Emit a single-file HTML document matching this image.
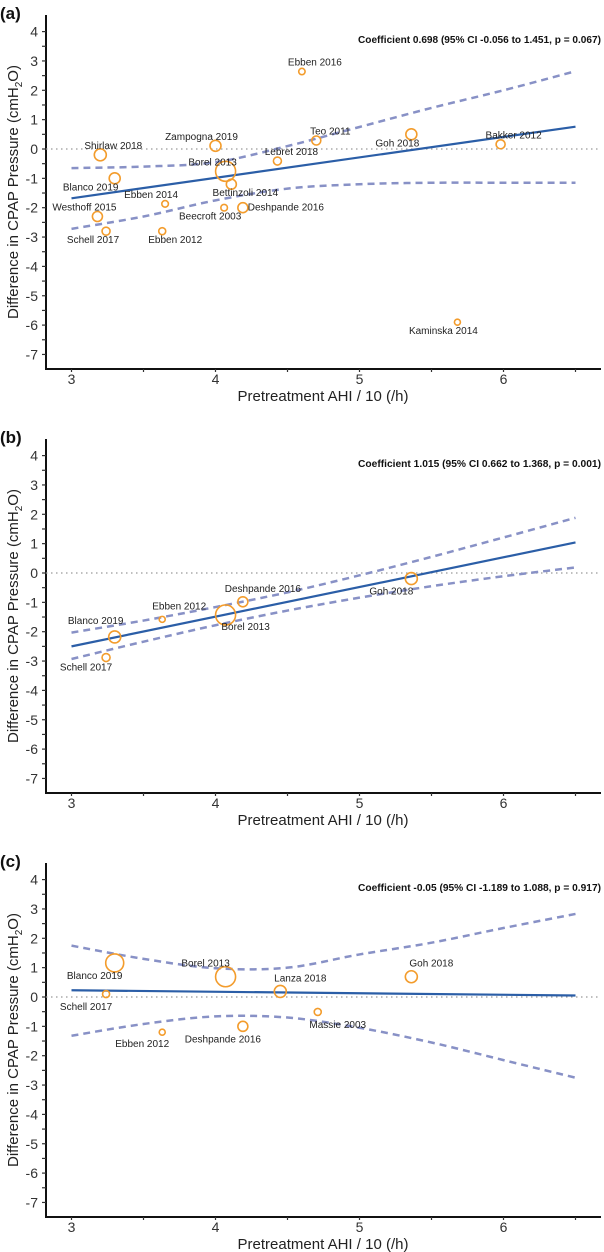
<!DOCTYPE html>
<html><head><meta charset="utf-8"><style>
html,body{margin:0;padding:0;background:#fff;}
svg{display:block;font-family:"Liberation Sans",sans-serif;}
</style></head><body>
<svg id="fig" width="604" height="1252" viewBox="0 0 604 1252" xmlns="http://www.w3.org/2000/svg"></svg>
<script>
const xTicks = [3, 4, 5, 6];
const yTicks = [4, 3, 2, 1, 0, -1, -2, -3, -4, -5, -6, -7];
const ciX = [3, 3.5, 4, 4.5, 5, 5.5, 6, 6.5];

// Panel (a)
const aNames = ["Shirlaw 2018","Blanco 2019","Westhoff 2015","Schell 2017","Ebben 2014","Ebben 2012","Zampogna 2019","Borel 2013","Bettinzoli 2014","Beecroft 2003","Deshpande 2016","Lebret 2018","Ebben 2016","Teo 2011","Goh 2018","Bakker 2012","Kaminska 2014"];
const aX = [3.20,3.30,3.18,3.24,3.65,3.63,4.00,4.07,4.11,4.06,4.19,4.43,4.60,4.70,5.36,5.98,5.68];
const aY = [-0.2,-1.0,-2.3,-2.8,-1.87,-2.8,0.11,-0.76,-1.2,-2.0,-2.0,-0.41,2.64,0.29,0.5,0.16,-5.9];
const aW = [6,5.5,5,4,3.3,3.5,5.5,10,5,3.3,5,4,3.2,4.5,5.5,4.5,3];
const aFit = [-1.68, 0.76];
const aUpper = [-0.65,-0.6,-0.45,0.1,0.75,1.4,2.0,2.65];
const aLower = [-2.72,-2.3,-1.75,-1.35,-1.2,-1.15,-1.15,-1.15];
const aCoef = "Coefficient 0.698 (95% CI -0.056 to 1.451, p = 0.067)";
const aLabDx = [13,-24,-13,-13,-14,13,-14,-13,14,-14,43,14,13,14,-14,13,-14];
const aLabDy = [-6,12,-6,12,-6,12,-6,-6,12,12,3,-6,-6,-6,12,-6,12];

// Panel (b)
const bNames = ["Blanco 2019","Schell 2017","Ebben 2012","Borel 2013","Deshpande 2016","Goh 2018"];
const bX = [3.30,3.24,3.63,4.07,4.19,5.36];
const bY = [-2.18,-2.88,-1.58,-1.43,-0.98,-0.19];
const bW = [6,4,3,10,5,6];
const bFit = [-2.5, 1.04];
const bUpper = [-2.03,-1.62,-1.16,-0.66,-0.08,0.55,1.21,1.88];
const bLower = [-2.93,-2.34,-1.78,-1.28,-0.84,-0.45,-0.11,0.19];
const bCoef = "Coefficient 1.015 (95% CI 0.662 to 1.368, p = 0.001)";
const bLabDx = [-19,-20,17,20,20,-20];
const bLabDy = [-13,13,-10,15,-10,16];

// Panel (c)
const cNames = ["Blanco 2019","Schell 2017","Ebben 2012","Borel 2013","Deshpande 2016","Lanza 2018","Massie 2003","Goh 2018"];
const cX = [3.30,3.24,3.63,4.07,4.19,4.45,4.71,5.36];
const cY = [1.16,0.1,-1.2,0.69,-1.0,0.19,-0.51,0.69];
const cW = [9,3.5,3,10,5,6,3.5,6];
const cFit = [0.23, 0.05];
const cUpper = [1.75,1.3,0.98,1.0,1.45,1.85,2.35,2.83];
const cLower = [-1.32,-0.92,-0.66,-0.7,-1.05,-1.55,-2.15,-2.75];
const cCoef = "Coefficient -0.05 (95% CI -1.189 to 1.088, p = 0.917)";
const cLabDx = [-20,-20,-20,-20,-20,20,20,20];
const cLabDy = [16,16,15,-10,16,-10,16,-10];

const NS = "http://www.w3.org/2000/svg";
const svg = document.getElementById("fig");
function mk(tag, attrs, parent){ const e=document.createElementNS(NS,tag); for(const k in attrs) e.setAttribute(k,attrs[k]); (parent||svg).appendChild(e); return e; }

function smooth(pts){
  let d = "M"+pts[0][0]+","+pts[0][1];
  for(let i=0;i<pts.length-1;i++){
    const p0=pts[Math.max(0,i-1)], p1=pts[i], p2=pts[i+1], p3=pts[Math.min(pts.length-1,i+2)];
    const c1=[p1[0]+(p2[0]-p0[0])/6, p1[1]+(p2[1]-p0[1])/6];
    const c2=[p2[0]-(p3[0]-p1[0])/6, p2[1]-(p3[1]-p1[1])/6];
    d += " C"+c1[0]+","+c1[1]+" "+c2[0]+","+c2[1]+" "+p2[0]+","+p2[1];
  }
  return d;
}

function panel(T, letter, names, xs, ys, ws, fit, up, lo, coef, ldx, ldy){
  const g = mk("g", {});
  
  
  const X = u => 71.5 + (u-3)*144;
  const Y = v => T + 149 - v*29.35;
  const axisBottom = T + 369;

  const lab = mk("text", {x:0, y:T+19, "font-size":17, "font-weight":"bold", fill:"#111"}, g);
  lab.textContent = "("+letter+")";
  
  

  // axes
  const ya = mk("line", {x1:46, y1:T+15, x2:46, y2:axisBottom+1, stroke:"#111", "stroke-width":2}, g);
  
  
  const xa = mk("line", {x1:45, y1:axisBottom, x2:601, y2:axisBottom, stroke:"#111", "stroke-width":2}, g);
  
  

  for(let v=4; v>=-7; v-=0.5){
    const t = mk("line", {x1:42, y1:Y(v), x2:46, y2:Y(v), stroke:"#333", "stroke-width":1.2}, g);
    
    
  }
  yTicks.forEach(v=>{
    const t = mk("text", {x:38, y:Y(v)+5, "text-anchor":"end", "font-size":14, fill:"#333"}, g);
    t.textContent = v;
    
    
  });
  for(let u=3; u<=6.5; u+=0.5){
    const t = mk("line", {x1:X(u), y1:axisBottom, x2:X(u), y2:axisBottom+3, stroke:"#333", "stroke-width":1.2}, g);
    
    
  }
  xTicks.forEach(u=>{
    const t = mk("text", {x:X(u), y:T+384, "text-anchor":"middle", "font-size":14, fill:"#333"}, g);
    t.textContent = u;
    
    
  });
  const xt = mk("text", {x:323, y:T+401, "text-anchor":"middle", "font-size":15, fill:"#222"}, g);
  xt.textContent = "Pretreatment AHI / 10 (/h)";
  
  
  const yt = mk("text", {x:0, y:0, "text-anchor":"middle", "font-size":15, fill:"#222", transform:"translate(18,"+(T+192)+") rotate(-90)"}, g);
  yt.innerHTML = 'Difference in CPAP Pressure (cmH<tspan font-size="10" dy="4">2</tspan><tspan dy="-4">O)</tspan>';
  
  

  // zero line
  const z = mk("line", {x1:46, y1:Y(0), x2:601, y2:Y(0), stroke:"#999", "stroke-width":1.2, "stroke-dasharray":"1.5,3.5"}, g);
  
  

  // CI
  [up, lo].forEach((arr, k)=>{
    const p = mk("path", {d:smooth(ciX.map((u,i)=>[X(u),Y(arr[i])])), fill:"none", stroke:"#8891c6", "stroke-width":2.5, "stroke-dasharray":"7,5"}, g);
    
    
  });
  // fit
  const f = mk("line", {x1:X(3), y1:Y(fit[0]), x2:X(6.5), y2:Y(fit[1]), stroke:"#2b5ea7", "stroke-width":2.2}, g);
  
  

  // points
  names.forEach((n,i)=>{
    const c = mk("circle", {cx:X(xs[i]), cy:Y(ys[i]), r:ws[i], fill:"none", stroke:"#f39c2c", "stroke-width":1.6}, g);
    
    
    const t = mk("text", {x:X(xs[i])+ldx[i], y:Y(ys[i])+ldy[i], "text-anchor":"middle", "font-size":10, fill:"#222"}, g);
    t.textContent = n;
    
    
  });

  const ct = mk("text", {x:601, y:T+43, "text-anchor":"end", "font-size":10, "font-weight":"bold", fill:"#111", textLength:243, lengthAdjust:"spacingAndGlyphs"}, g);
  ct.textContent = coef;
  
  
}

panel(0, "a", aNames, aX, aY, aW, aFit, aUpper, aLower, aCoef, aLabDx, aLabDy);
panel(424, "b", bNames, bX, bY, bW, bFit, bUpper, bLower, bCoef, bLabDx, bLabDy);
panel(848, "c", cNames, cX, cY, cW, cFit, cUpper, cLower, cCoef, cLabDx, cLabDy);
</script>
</body></html>
